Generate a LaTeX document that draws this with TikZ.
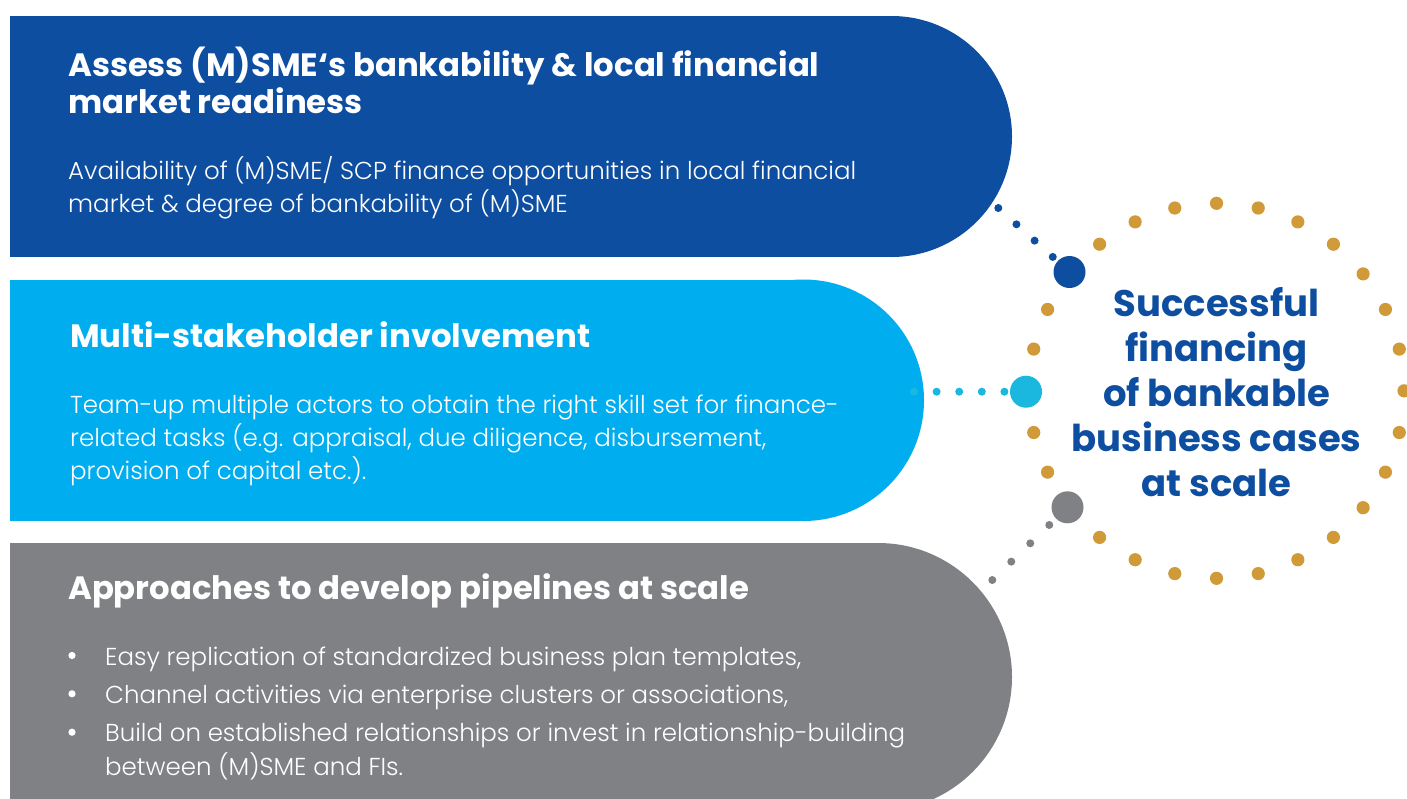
\documentclass[tikz,border=0pt]{standalone}
\usepackage{fontspec}
\IfFontExistsTF{Poppins Light}{\newfontfamily\bodyf{Poppins Light}}{\newfontfamily\bodyf{Poppins}}
\newfontfamily\headf{Poppins}[UprightFont=* Bold]
\newfontfamily\circf{Poppins}[UprightFont=* Bold]
\definecolor{dblue}{RGB}{14,78,160}
\definecolor{cbar}{RGB}{0,174,239}
\definecolor{cdot}{RGB}{26,183,222}
\definecolor{gbar}{RGB}{128,129,133}
\definecolor{gold}{RGB}{207,154,55}
\tikzset{
  headtxt/.style={anchor=base west,inner sep=0,text=white,font=\headf\fontsize{32.3}{36}\selectfont},
  bodytxt/.style={anchor=base west,inner sep=0,text=white,font=\bodyf\fontsize{24.5}{30}\selectfont},
  circtxt/.style={anchor=base,inner sep=0,text=dblue,font=\circf\fontsize{37}{42}\selectfont},
  bigdot/.style={circle,inner sep=0,minimum size=32pt,fill=#1},
  golddot/.style={fill=gold}
}
\begin{document}
\begin{tikzpicture}[x=1pt,y=-1pt]
\clip (0,0) rectangle (1407,798);
\fill[white] (0,0) rectangle (1407,798);
% bars
\fill[dblue] (10,16) rectangle (891.5,257);
\fill[dblue] (891.5,136.5) circle (120.5);
\fill[cbar] (10,279.5) rectangle (803.25,521);
\fill[cbar] (803.25,400.25) circle (120.75);
\fill[gbar] (10,543) rectangle (878,811);
\fill[gbar] (878,677) circle (134);
% gold ring
\foreach \k in {0,...,27}{
  \ifnum\k=18\else\ifnum\k=21\else\ifnum\k=24\else
  \fill[golddot] ({1216.5+187.5*sin(\k*360/28)},{390.8-187.5*cos(\k*360/28)}) circle (6.6);
  \fi\fi\fi
}
% big dots
\node[bigdot=dblue] (bdot) at (1069.5,272) {};
\node[bigdot=cdot] (cdotn) at (1026,391.7) {};
\node[bigdot=gbar] (gdot) at (1067.5,507.3) {};
% connector start points
\coordinate (bs) at (998.3,208);
\coordinate (cs) at (914,391.7);
\coordinate (gs) at (992.3,580);
\draw[draw=dblue,line width=8pt,line cap=round,dash pattern=on 0pt off 24.4pt] (bs) -- (bdot);
\draw[draw=cdot,line width=8pt,line cap=round,dash pattern=on 0pt off 22.6pt] (cs) -- (cdotn);
\draw[draw=gbar,line width=8pt,line cap=round,dash pattern=on 0pt off 26.4pt] (gs) -- (gdot);
% bar 1 text
\node[headtxt] (h1a) at (68,76) {Assess (M)SME‘s bankability \& local financial};
\node[headtxt] (h1b) at (68,113) {market readiness};
\node[bodytxt] (b1a) at (68,179.5) {Availability of (M)SME/ SCP finance opportunities in local financial};
\node[bodytxt] (b1b) at (68,212) {market \& degree of bankability of (M)SME};
% bar 2 text
\node[headtxt] (h2a) at (70,347.5) {Multi-stakeholder involvement};
\node[bodytxt] (b2a) at (70,413.5) {Team-up multiple actors to obtain the right skill set for finance-};
\node[bodytxt] (b2b) at (70,446) {related tasks (e.g. appraisal, due diligence, disbursement,};
\node[bodytxt] (b2c) at (70,479) {provision of capital etc.).};
% bar 3 text
\node[headtxt] (h3a) at (68,599) {Approaches to develop pipelines at scale};
\foreach \yy in {665,703.3,741.7}{
  \fill[white] (72,\yy-9.5) circle (3.6);
}
\node[bodytxt] (b3a) at (105,665) {Easy replication of standardized business plan templates,};
\node[bodytxt] (b3b) at (105,703.3) {Channel activities via enterprise clusters or associations,};
\node[bodytxt] (b3c) at (105,741.7) {Build on established relationships or invest in relationship-building};
\node[bodytxt] (b3d) at (105,775) {between (M)SME and FIs.};
% circle text
\node[circtxt] (c1) at (1216.5,316) {Successful};
\node[circtxt] (c2) at (1216.5,361.5) {financing};
\node[circtxt] (c3) at (1216.5,406.5) {of bankable};
\node[circtxt] (c4) at (1216.5,451.5) {business cases};
\node[circtxt] (c5) at (1216.5,496.5) {at scale};
\end{tikzpicture}
\end{document}
